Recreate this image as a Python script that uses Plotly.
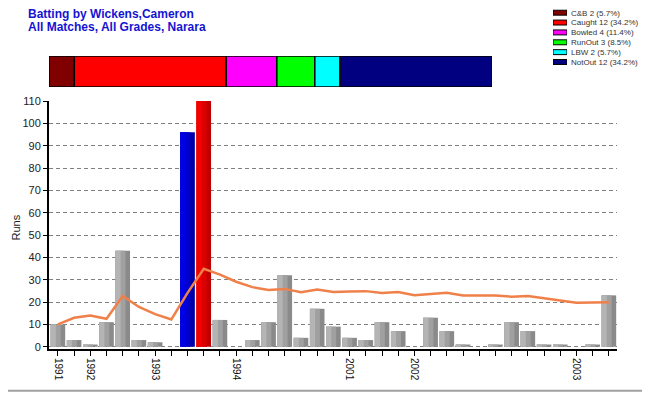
import plotly.graph_objects as go

# ---------------- data ----------------
runs = [10, 3, 1, 11, 43, 3, 2, 0, 96, 110, 12, 0, 3, 11, 32, 4, 17, 9,
        4, 3, 11, 7, 0, 13, 7, 1, 0, 1, 11, 7, 1, 1, 0, 1, 23]
average = [10.0, 13.0, 14.0, 12.5, 22.7, 17.8, 14.6, 12.2, 24.1, 34.9, 32.3,
           29.1, 26.7, 25.4, 25.9, 24.4, 25.6, 24.5, 24.7, 24.9, 24.1, 24.5,
           23.1, 23.8, 24.2, 22.9, 22.9, 23.0, 22.4, 22.7, 21.7, 20.7, 19.7,
           19.8, 19.9]
tick_labels = ["1991", "", "1992", "", "", "", "1993", "", "", "", "", "1994",
               "", "", "", "", "", "", "2001", "", "", "", "2002", "", "", "",
               "", "", "", "", "", "", "2003", "", ""]
dismissals = ["C&B", "Caught", "Bowled", "RunOut", "LBW", "NotOut"]
dismissal_counts = [2, 12, 4, 3, 2, 12]
dismissal_pct = ["5.7%", "34.2%", "11.4%", "8.5%", "5.7%", "34.2%"]
dismissal_colors = ["#800000", "#FF0000", "#FF00FF", "#00FF00", "#00FFFF", "#000080"]

FONT = "Liberation Sans, Arial, sans-serif"
x = list(range(len(runs)))

# highest score red, second-highest blue
order = sorted(x, key=lambda i: runs[i], reverse=True)
best, second = order[0], order[1]

shades = {
    "normal": ["#8a8a8a", "#a0a0a0", "#b4b4b4"],
    "best": ["#bf0000", "#de0000", "#f20000"],
    "second": ["#0000a8", "#0000cc", "#0000e6"],
}


def kind(i):
    if i == best:
        return "best"
    if i == second:
        return "second"
    return "normal"


fig = go.Figure()

# main bars, three overlapping bands for a shaded look
for band, w in enumerate([0.9, 0.62, 0.32]):
    fig.add_trace(go.Bar(
        x=x, y=runs, width=w, offset=-0.45,
        marker=dict(color=[shades[kind(i)][band] for i in x], line=dict(width=0)),
        showlegend=False, hoverinfo="skip" if band else None,
        xaxis="x", yaxis="y",
    ))

# running average
fig.add_trace(go.Scatter(
    x=x, y=average, mode="lines",
    line=dict(color="#F0804A", width=2.5),
    showlegend=False, xaxis="x", yaxis="y",
))

# stacked dismissal bar
base = 0
for name, cnt, col in zip(dismissals, dismissal_counts, dismissal_colors):
    fig.add_trace(go.Bar(
        x=[cnt], y=[0], base=[base], orientation="h", width=1,
        marker=dict(color=col, line=dict(color="black", width=1.5)),
        showlegend=False, xaxis="x2", yaxis="y2", name=name,
    ))
    base += cnt

# legend swatches on a tiny axis, labels as tick text
legend_labels = [f"{n} {c} ({p})" for n, c, p in zip(dismissals, dismissal_counts, dismissal_pct)]
legend_pos = list(range(len(dismissals)))
fig.add_trace(go.Bar(
    x=[1] * len(dismissals), y=legend_pos, orientation="h", width=0.5,
    marker=dict(color=dismissal_colors, line=dict(color="black", width=1)),
    showlegend=False, xaxis="x3", yaxis="y3",
))

# page is shown with an 8px body margin: work in page pixels, convert
OFF = 8
W, H = 650 - OFF, 400 - 2 * OFF          # avoid any page overflow / scrollbars
PL, PR, PT, PB = 49, 617, 101, 349          # main plot area in page pixels
L = PL - OFF
R = W - (PR - OFF)
B = H - (PB - OFF)
T = 0
pw, ph = W - L - R, H - T - B


def px_x(p):
    return (p - OFF - L) / pw


def px_y(p):
    return (H - B - (p - OFF)) / ph


# legend rows: centres at page y ~12.7 .. 62, spacing ~9.86
first_c, last_c = 12.7, 62.0
step = (last_c - first_c) / 5
leg_top, leg_bot = OFF, last_c + step / 2
leg_range = [5 + (leg_bot - last_c) / step, -(first_c - leg_top) / step]

bottom_edge = OFF + H - 1.2

fig.update_layout(
    width=W, height=H,
    margin=dict(l=L, r=R, t=T, b=B, autoexpand=False),
    paper_bgcolor="white", plot_bgcolor="white",
    barmode="overlay",
    font=dict(family=FONT, color="#222222"),
    xaxis=dict(
        domain=[0, 1], range=[-0.55, 34.5], automargin=False,
        tickmode="array", tickvals=x, ticktext=tick_labels, tickangle=90,
        ticks="outside", ticklen=5, tickcolor="black", tickwidth=1,
        showline=True, linecolor="black", linewidth=2,
        showgrid=False, zeroline=False,
        tickfont=dict(size=10, color="#111111", family=FONT),
    ),
    yaxis=dict(
        domain=[0, px_y(PT)], range=[-1, 110], automargin=False,
        tickmode="array", tickvals=list(range(0, 111, 10)),
        ticks="outside", ticklen=4, tickcolor="black",
        showline=True, linecolor="black", linewidth=2,
        showgrid=True, gridcolor="#808080", gridwidth=1, griddash="4px,3px",
        zeroline=False,
        tickfont=dict(size=11, color="#222222", family=FONT),
    ),
    xaxis2=dict(domain=[0, px_x(492)], range=[0, sum(dismissal_counts)],
                anchor="y2", visible=False, automargin=False),
    yaxis2=dict(domain=[px_y(87), px_y(56)], range=[-0.5, 0.5],
                anchor="x2", visible=False, automargin=False),
    xaxis3=dict(domain=[px_x(553), px_x(567)], range=[0, 1],
                anchor="y3", visible=False, automargin=False),
    yaxis3=dict(domain=[px_y(leg_bot), min(1, px_y(leg_top))], range=leg_range,
                anchor="x3", side="right", showline=False, showgrid=False,
                ticks="", zeroline=False, ticklabelstandoff=3, automargin=False,
                ticklabeloverflow="allow",
                tickmode="array", tickvals=legend_pos, ticktext=legend_labels,
                tickfont=dict(size=8, color="#333333", family=FONT)),
    annotations=[
        dict(text="<b>Batting by Wickens,Cameron</b>", xref="paper", yref="paper",
             x=px_x(26), y=px_y(14), xanchor="left", yanchor="middle",
             showarrow=False, font=dict(size=12, color="#1414D2", family=FONT)),
        dict(text="<b>All Matches, All Grades, Narara</b>", xref="paper", yref="paper",
             x=px_x(26), y=px_y(27.3), xanchor="left", yanchor="middle",
             showarrow=False, font=dict(size=12, color="#1414D2", family=FONT)),
        dict(text="Runs", xref="paper", yref="paper",
             x=px_x(15), y=px_y(227.5), xanchor="center", yanchor="middle",
             textangle=-90, showarrow=False,
             font=dict(size=11, color="#222222", family=FONT)),
    ],
    shapes=[
        dict(type="line", xref="paper", yref="paper",
             x0=px_x(647.5), x1=px_x(647.5), y0=px_y(OFF), y1=px_y(bottom_edge),
             line=dict(color="#A0A0A0", width=2)),
        dict(type="line", xref="paper", yref="paper",
             x0=px_x(OFF), x1=px_x(648.5), y0=px_y(bottom_edge), y1=px_y(bottom_edge),
             line=dict(color="#A0A0A0", width=2)),
    ],
)

fig.write_html("out.html")
